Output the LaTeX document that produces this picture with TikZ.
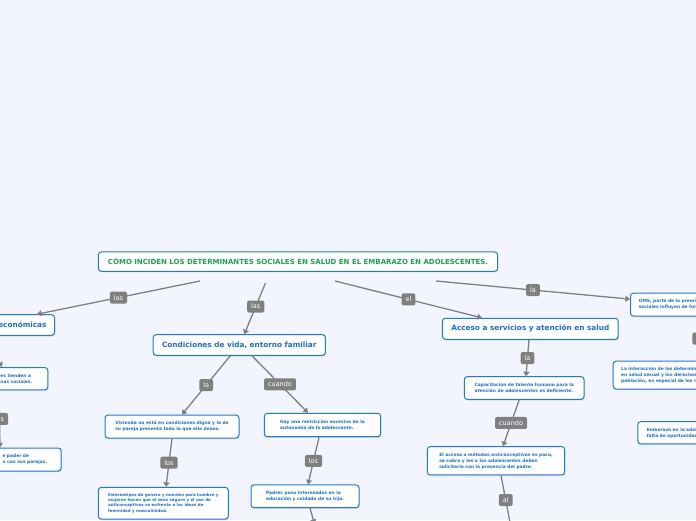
\documentclass[tikz,border=0pt]{standalone}
\usepackage{fontspec}
\setmainfont{DejaVu Sans}
\usetikzlibrary{arrows.meta, positioning, shadows}

\definecolor{fondo}{RGB}{242,245,253}
\definecolor{borde}{RGB}{30,120,222}
\definecolor{textoazul}{RGB}{22,110,222}
\definecolor{verdetitulo}{RGB}{24,165,75}
\definecolor{gris}{RGB}{128,128,128}

\tikzset{
  caja/.style={draw=borde, line width=1pt, rounded corners=3pt, fill=white, text=textoazul,
    align=left, inner xsep=9pt, inner ysep=0pt,
    drop shadow={shadow xshift=0.5pt, shadow yshift=-1.2pt, opacity=0.25}},
  titulo/.style={caja, text=verdetitulo, align=center, font=\fontsize{7}{8}\selectfont\bfseries},
  tema/.style={caja, align=center, font=\fontsize{7.3}{9}\selectfont\bfseries},
  idea/.style={caja, font=\fontsize{4.4}{6}\selectfont\bfseries},
  detalle/.style={caja, font=\fontsize{4}{5.3}\selectfont\bfseries},
  enlace/.style={draw=gris, line width=1.3pt, -{Triangle[width=6pt,length=4.5pt]}},
  etiqueta/.style={fill=gris, text=white, rounded corners=1.5pt, font=\fontsize{6.5}{7}\selectfont,
    inner xsep=4pt, inner ysep=0pt, minimum height=12pt}
}

\begin{document}
\begin{tikzpicture}[x=1pt,y=-1pt]
  \useasboundingbox (0,0) rectangle (696,520);
  \clip (0,0) rectangle (696,520);
  \fill[fondo] (0,0) rectangle (696,520);

  \node[titulo, minimum width=399.4pt, minimum height=19.3pt] (titulo) at (298,261.6)
    {CÓMO INCIDEN LOS DETERMINANTES SOCIALES EN SALUD EN EL EMBARAZO EN ADOLESCENTES.};

  \node[tema, anchor=east, text width=90pt, inner xsep=8pt, align=right, minimum height=20.6pt] (econ) at (55,325) {económicas};
  \node[tema, minimum width=163pt, minimum height=20.6pt] (vida) at (239.3,345) {Condiciones de vida, entorno familiar};
  \node[tema, minimum width=167pt, minimum height=21pt] (acceso) at (530.3,328.8) {Acceso a servicios y atención en salud};
  \node[idea, anchor=west, text width=130pt, inner xsep=8.3pt, minimum height=23pt] (oms) at (630,304.6)
    {OMS, parte de la premisa\\sociales influyen de forma};

  \node[idea, anchor=west, text width=38.3pt, minimum height=22.4pt] (normas) at (-9,378.7)
    {es tienden a\\nas sociales.};
  \node[idea, anchor=west, text width=49.7pt, minimum height=23pt] (pareja) at (-7,459.5)
    {e poder de\\n con sus parejas.};

  \node[idea, minimum width=134pt, minimum height=23pt] (vivienda) at (172,426.5)
    {Vivienda no está en condiciones digna y la de\\su pareja presenta todo lo que ella desea.};
  \node[idea, minimum width=116.4pt, minimum height=23.4pt] (restriccion) at (322.5,425)
    {Hay una restricción excesiva de la\\autonomía de la adolescente.};
  \node[detalle, minimum width=130pt, minimum height=31.7pt] (estereotipos) at (163.3,503.2)
    {Estereotipos de genero y morales para hombre y\\mujeres hacen que el sexo seguro y el uso de\\anticonceptivos se enfrente a las ideas de\\feminidad y masculinidad.};
  \node[idea, minimum width=108pt, minimum height=22.7pt] (padres) at (305,496.3)
    {Padres poco interesados en la\\educación y cuidado de su hija.};

  \node[idea, minimum width=119.7pt, minimum height=22.6pt] (capacitacion) at (524.2,388)
    {Capacitación de talento humano para la\\atención de adolescentes es deficiente.};
  \node[idea, minimum width=137.4pt, minimum height=28.3pt] (metodos) at (496,460.8)
    {El acceso a métodos anticonceptivos es poco,\\se cobra y los o las adolescentes deben\\solicitarlo con la presencia del padre.};

  \node[idea, anchor=west, text width=140pt, inner xsep=8pt, minimum height=28pt] (interaccion) at (612.7,375)
    {La interacción de los determinantes\\en salud sexual y los derechos\\población, en especial de los niños};
  \node[idea, anchor=west, text width=120pt, minimum height=22.3pt] (embarazo) at (637.3,432.8)
    {Embarazo en la adolescencia\\falta de oportunidades};

  \coordinate (t1) at (200,281);
  \coordinate (t2) at (265.5,283);
  \coordinate (t3) at (335,281);
  \coordinate (t4) at (436,281);
  \coordinate (p1) at (314.5,524);
  \coordinate (m1) at (511.5,530);

  \draw[enlace] (t1) -- node[etiqueta] {las} ([xshift=-18pt]econ.north east);
  \draw[enlace] (t2) -- node[etiqueta, pos=0.46] {las} ([xshift=5pt]vida.north);
  \draw[enlace] (t3) -- node[etiqueta] {el} ([xshift=40pt]acceso.north west);
  \draw[enlace] (t4) -- node[etiqueta] {la} ([yshift=5.5pt]oms.west);

  \draw[enlace] ([xshift=-70pt]econ.south east) -- ([xshift=-46.3pt]normas.north east);
  \draw[enlace] ([xshift=-49.3pt]normas.south east) -- node[etiqueta] {las} ([xshift=-61.7pt]pareja.north east);

  \draw[enlace] ([xshift=-9pt]vida.south) -- node[etiqueta] {la} ([xshift=10pt]vivienda.north);
  \draw[enlace] ([xshift=12.7pt]vida.south) -- node[etiqueta] {cuando} ([xshift=-14.5pt]restriccion.north);
  \draw[enlace] (vivienda.south) -- node[etiqueta] {los} ([xshift=2.7pt]estereotipos.north);
  \draw[enlace] ([xshift=-3.5pt]restriccion.south) -- node[etiqueta] {los} ([xshift=3pt]padres.north);
  \draw[enlace] ([xshift=5pt]padres.south) -- (p1);

  \draw[enlace] ([xshift=-1.3pt]acceso.south) -- node[etiqueta] {la} ([xshift=1.8pt]capacitacion.north);
  \draw[enlace] ([xshift=-5pt]capacitacion.south) -- node[etiqueta] {cuando} ([xshift=7pt]metodos.north);
  \draw[enlace] ([xshift=5pt]metodos.south) -- node[etiqueta, pos=0.45] {al} (m1);

  \draw[enlace] ([xshift=71pt]oms.south west) -- node[etiqueta] {los} ([xshift=88.3pt]interaccion.north west);
\end{tikzpicture}
\end{document}
